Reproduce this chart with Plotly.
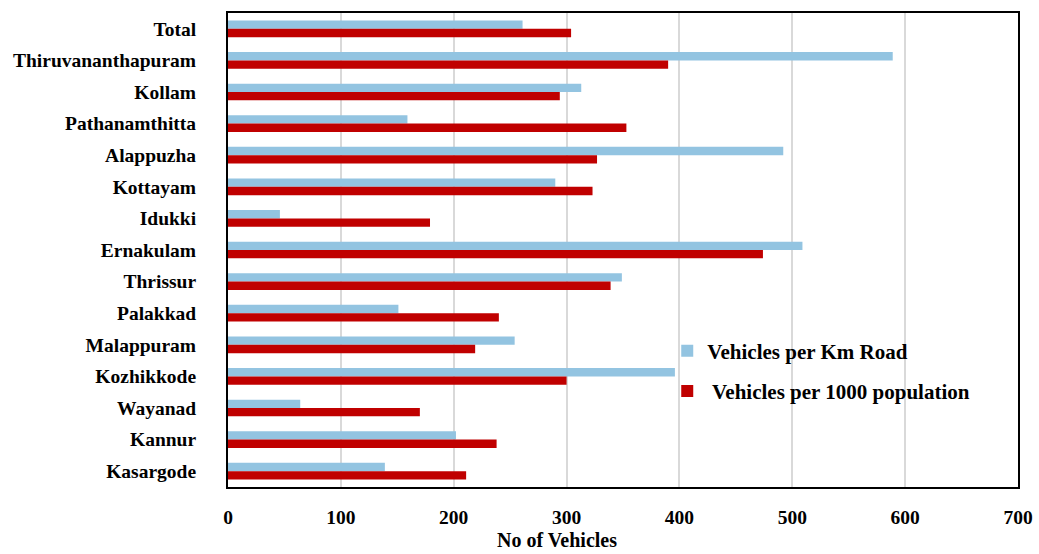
import plotly.graph_objects as go

districts = ["Total", "Thiruvananthapuram", "Kollam", "Pathanamthitta", "Alappuzha",
             "Kottayam", "Idukki", "Ernakulam", "Thrissur", "Palakkad", "Malappuram",
             "Kozhikkode", "Wayanad", "Kannur", "Kasargode"]
per_km_road = [261, 589, 313, 159, 492, 290, 46, 509, 349, 151, 254, 396, 64, 202, 139]
per_1000_pop = [304, 390, 294, 353, 327, 323, 179, 474, 339, 240, 219, 300, 170, 238, 211]
x_ticks = [0, 100, 200, 300, 400, 500, 600, 700]

FONT = "Liberation Serif"
BLUE = "#93C4E1"
RED = "#C00000"

fig = go.Figure()
fig.add_trace(go.Bar(
    y=districts, x=per_km_road, orientation="h", name="Vehicles per Km Road",
    marker=dict(color=BLUE, line=dict(width=0)), legendgroup="a",
))
fig.add_trace(go.Bar(
    y=districts, x=per_1000_pop, orientation="h", name=" Vehicles per 1000 population",
    marker=dict(color=RED, line=dict(width=0)), legendgroup="b",
))

fig.update_layout(
    width=1039, height=554,
    margin=dict(l=228, r=21, t=13, b=67, autoexpand=False),
    paper_bgcolor="white", plot_bgcolor="white",
    barmode="group", bargap=0.47, bargroupgap=0,
    font=dict(family=FONT, size=19, color="black"),
    showlegend=True,
    legend=dict(
        x=0.556, y=0.33, xanchor="left", yanchor="top",
        bgcolor="rgba(0,0,0,0)", traceorder="grouped", tracegroupgap=10,
        font=dict(family=FONT, size=21, color="black", weight="bold"),
        itemwidth=30,
    ),
    xaxis=dict(
        range=[0, 700], tickvals=x_ticks, showgrid=True, gridcolor="#D9D9D9", gridwidth=2,
        zeroline=False, showline=True, linecolor="black", linewidth=2, mirror=True,
        ticks="", tickfont=dict(family=FONT, size=19.5, weight="bold"), ticklabelstandoff=12,
        automargin=False,
    ),
    yaxis=dict(
        autorange="reversed", showgrid=False, showline=True, linecolor="black",
        linewidth=2, mirror=True, ticks="", ticklabelstandoff=26,
        tickfont=dict(family=FONT, size=19.5, weight="bold"), automargin=False,
    ),
)

fig.add_annotation(
    text="No of Vehicles", xref="paper", yref="paper", x=0.416, y=-0.084,
    xanchor="center", yanchor="top", showarrow=False,
    font=dict(family=FONT, size=20, color="black", weight="bold"),
)

fig.write_html("out.html")
